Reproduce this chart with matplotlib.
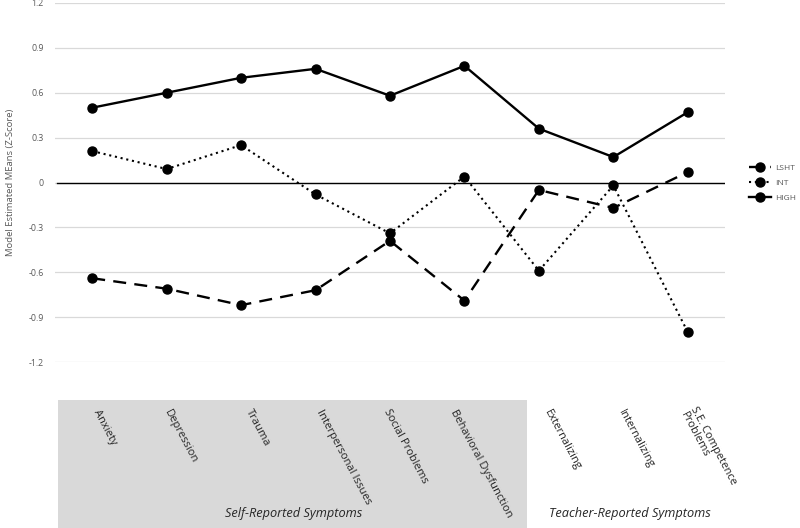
import numpy as np
import matplotlib.pyplot as plt
from matplotlib.patches import Rectangle
from matplotlib.transforms import blended_transform_factory

categories = ['Anxiety', 'Depression', 'Trauma', 'Interpersonal Issues',
              'Social Problems', 'Behavioral Dysfunction', 'Externalizing',
              'Internalizing', 'S.E. Competence\nProblems']
lsht = [-0.64, -0.71, -0.82, -0.72, -0.39, -0.79, -0.05, -0.17, 0.07]
intm = [0.21, 0.09, 0.25, -0.08, -0.34, 0.04, -0.59, -0.02, -1.00]
high = [0.50, 0.60, 0.70, 0.76, 0.58, 0.78, 0.36, 0.17, 0.47]
yticks = [-1.2, -0.9, -0.6, -0.3, 0, 0.3, 0.6, 0.9, 1.2]
ytick_labels = ['-1.2', '-0.9', '-0.6', '-0.3', '0', '0.3', '0.6', '0.9', '1.2']

plt.rcParams['font.family'] = ['Open Sans', 'DejaVu Sans']

fig = plt.figure(figsize=(8, 5.28), dpi=100)
ax = fig.add_axes([55/800, 1-362/528, 670/800, 359/528])
x = np.arange(len(categories))

# grid + zero line
for t in yticks:
    ax.axhline(t, color='#d9d9d9', lw=0.9, zorder=0)
ax.plot([-0.47, 8.5], [0, 0], color='black', lw=1.0, zorder=1)

l1, = ax.plot(x, lsht, color='black', lw=1.7, ls=(0, (5.5, 3.5)), marker='o', ms=6.5, clip_on=False, zorder=3)
l2, = ax.plot(x, intm, color='black', lw=1.5, ls=(0, (1, 1.8)), marker='o', ms=6.5, clip_on=False, zorder=3)
l3, = ax.plot(x, high, color='black', lw=1.7, ls='-', marker='o', ms=6.5, clip_on=False, zorder=3)

ax.set_xlim(-0.5, 8.5)
ax.set_ylim(-1.2, 1.2)
ax.set_yticks(yticks)
ax.set_yticklabels(ytick_labels, fontsize=6.3, color='#595959')
ax.set_xticks([])
ax.tick_params(axis='y', length=0, pad=8)
for s in ax.spines.values():
    s.set_visible(False)
ax.set_ylabel('Model Estimated MEans (Z-Score)', fontsize=6.8, color='#595959')
ax.yaxis.set_label_coords(-0.06, 0.5)

# shaded group box and category labels
trans = blended_transform_factory(ax.transData, fig.transFigure)
ax.add_patch(Rectangle((-0.46, 0), 6.3, 128/528, transform=trans,
                       facecolor='#d9d9d9', edgecolor='none', clip_on=False, zorder=0))
offsets = [0.05, 0.0, 0.1, 0.05, -0.05, -0.15, 0.1, 0.1, 0.0]
for i, lab in enumerate(categories):
    ax.text(x[i] + offsets[i], 1 - 410/528, lab, transform=trans, rotation=-62,
            rotation_mode='anchor', ha='left', va='center', fontsize=8, color='#262626',
            linespacing=1.0)

ax.text(2.7, 1 - 513/528, 'Self-Reported Symptoms', transform=trans, ha='center', va='center',
        fontsize=9.2, style='italic', color='#262626')
ax.text(7.22, 1 - 513/528, 'Teacher-Reported Symptoms', transform=trans, ha='center', va='center',
        fontsize=9.2, style='italic', color='#262626')

leg = fig.legend([l1, l2, l3], ['LSHT', 'INT', 'HIGH'], loc='center left',
                 bbox_to_anchor=(0.927, 1 - 183/528), frameon=False, fontsize=6,
                 handlelength=2.6, labelspacing=0.9, handletextpad=0.5)
for t in leg.get_texts():
    t.set_color('#595959')

fig.savefig('out.png', dpi=100)
